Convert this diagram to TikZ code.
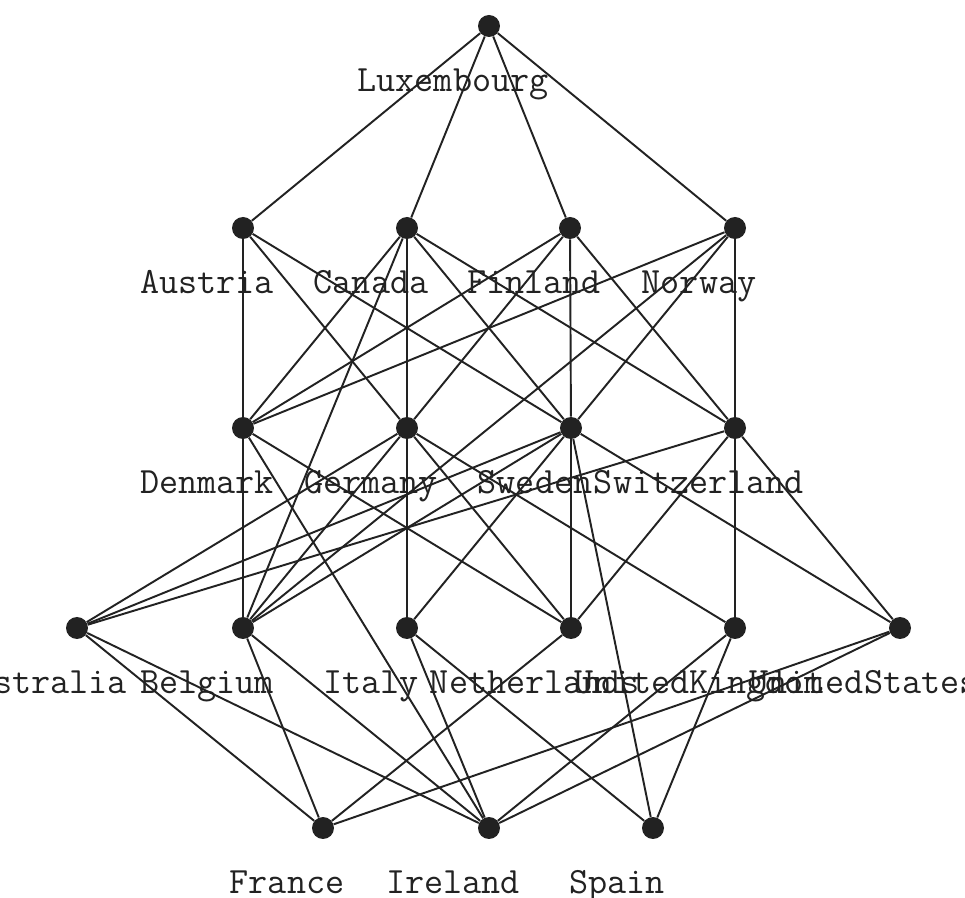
\documentclass[tikz,border=0pt]{standalone}
\usepackage{fontspec}
\definecolor{Ink}{RGB}{34,34,34}
\tikzset{
  dot/.style={circle,fill=Ink,draw=none,minimum size=.44cm,inner sep=0pt},
  lbl/.style={font=\ttfamily\fontsize{21.1}{22}\selectfont,text=Ink,inner sep=0pt,anchor=base},
  link/.style={draw=Ink,line width=1.1pt}
}
\begin{document}
\begin{tikzpicture}[x=.02cm,y=-.02cm]
  \clip (0,0) rectangle (965,898);
  \fill[white] (0,0) rectangle (965,898);
  % lattice nodes, labels sit below left of each dot
  \foreach \n/\x/\y/\t in {lux/489/26/Luxembourg,
      aut/243/228/Austria,can/407/228/Canada,fin/570/228/Finland,nor/735/228/Norway,
      den/243/428/Denmark,ger/407/428/Germany,swe/571/428/Sweden,swi/735/428/Switzerland,
      aus/77/628/Australia,bel/243/628/Belgium,ita/407/628/Italy,net/571/628/Netherlands,
      uk/735/628/UnitedKingdom,us/900/628/UnitedStates,
      fra/323/828/France,ire/489/828/Ireland,spa/653/828/Spain}{
    \node[dot] (\n) at (\x,\y) {};
    \node[lbl] (\n-l) at (\x-36,\y+66) {\t};
  }
  \foreach \a/\b in {lux/aut,lux/can,lux/fin,lux/nor,
      aut/den,aut/ger,aut/swe,
      can/den,can/bel,can/ger,can/swe,can/swi,
      fin/den,fin/ger,fin/swe,fin/swi,
      nor/den,nor/bel,nor/swe,nor/swi,
      den/bel,den/net,den/ire,
      ger/aus,ger/bel,ger/ita,ger/net,ger/uk,
      swe/aus,swe/bel,swe/ita,swe/net,swe/spa,swe/us,
      swi/aus,swi/net,swi/uk,swi/us,
      aus/fra,aus/ire,bel/fra,bel/ire,ita/ire,ita/spa,
      net/fra,uk/ire,uk/spa,us/fra,us/ire}{\draw[link] (\a)--(\b);}
\end{tikzpicture}
\end{document}
